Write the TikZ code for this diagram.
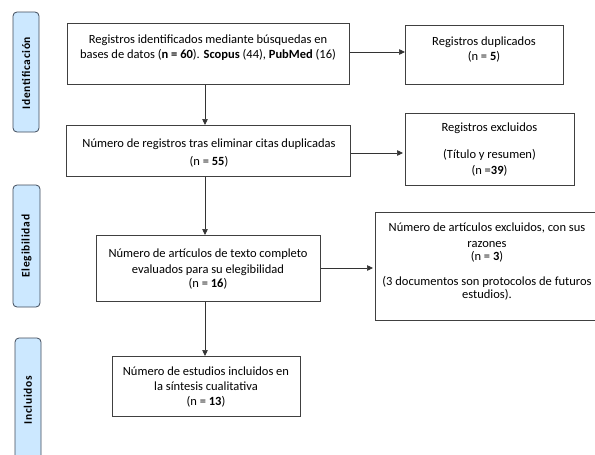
\documentclass[tikz,border=0pt]{standalone}
\usepackage{fontspec}
\setmainfont{Carlito}
\usetikzlibrary{arrows.meta}
\definecolor{barfill}{HTML}{CCE8FF}
\definecolor{barline}{HTML}{3F4A5A}
\definecolor{boxline}{HTML}{404040}
\begin{document}
\begin{tikzpicture}[x=1pt,y=-1pt,
  flowbox/.style={draw=boxline,line width=0.8pt,fill=white,inner sep=0pt,anchor=north west},
  boxtext/.style={inner sep=0pt,align=center,font=\fontsize{12.5}{15.2}\selectfont},
  phasebar/.style={draw=barline,line width=0.8pt,fill=barfill,rounded corners=4pt},
  phaselabel/.style={rotate=90,font=\fontsize{11.5}{13}\selectfont\bfseries\addfontfeature{LetterSpace=6}},
  flowarrow/.style={-{Triangle[length=6pt,width=5.5pt]},line width=0.7pt,draw=black!80}]
\useasboundingbox (0,0) rectangle (595,455);
\clip (0,0) rectangle (595,455);
% phase bars
\draw[phasebar] (13,12) rectangle (39,132);
\node[phaselabel] (lid) at (26,73) {Identificación};
\draw[phasebar] (13,185) rectangle (40,307);
\node[phaselabel] (lel) at (26.5,246) {Elegibilidad};
\draw[phasebar] (15,338) rectangle (41,470);
\node[phaselabel] (lin) at (28,400) {Incluidos};
% boxes
\node[flowbox,minimum width=282pt,minimum height=61pt] (b1) at (67,23) {};
\node[boxtext] (t1) at (208,47.5)
  {Registros identificados mediante búsquedas en\\bases de datos (\textbf{n = 60}). \textbf{Scopus} (44), \textbf{PubMed} (16)};
\node[flowbox,minimum width=158pt,minimum height=59pt] (b2) at (405,25) {};
\node[boxtext] (t2) at (484,49.5) {Registros duplicados\\(n = \textbf{5})};
\node[flowbox,minimum width=284pt,minimum height=51pt] (b3) at (66,125) {};
\node[boxtext] (t3) at (209,153) {Número de registros tras eliminar citas duplicadas\\[3pt](n = \textbf{55})};
\node[flowbox,minimum width=169pt,minimum height=72pt] (b4) at (405,113) {};
\node[boxtext] (t4) at (489.5,149.5) {Registros excluidos\\[12pt](Título y resumen)\\[1pt](n =\textbf{39})};
\node[flowbox,minimum width=224pt,minimum height=66pt] (b5) at (96,235) {};
\node[boxtext] (t5) at (208,269) {Número de artículos de texto completo\\[1pt]evaluados para su elegibilidad\\[-1pt](n = \textbf{16})};
\node[flowbox,minimum width=240pt,minimum height=108pt] (b6) at (375,212) {};
\node[boxtext] (t6) at (487,261.5) {Número de artículos excluidos, con sus\\[1pt]razones\\[-2pt](n = \textbf{3})\\[10pt](3 documentos son protocolos de futuros\\[-2pt]estudios).};
\node[flowbox,minimum width=188pt,minimum height=60pt] (b7) at (112,356) {};
\node[boxtext] (t7) at (206,387) {Número de estudios incluidos en\\la síntesis cualitativa\\(n = \textbf{13})};
% arrows
\draw[flowarrow] (b1.south -| 205,0) -- (b3.north -| 205,0);
\draw[flowarrow] (b3.south -| 205,0) -- (b5.north -| 205,0);
\draw[flowarrow] (b5.south -| 205,0) -- (b7.north -| 205,0);
\draw[flowarrow] (b1.east |- 0,52) -- (b2.west |- 0,52);
\draw[flowarrow] (b3.east |- 0,153) -- ([xshift=-2pt]b4.west |- 0,153);
\draw[flowarrow] (b5.east |- 0,268) -- ([xshift=-2pt]b6.west |- 0,268);
\end{tikzpicture}
\end{document}
